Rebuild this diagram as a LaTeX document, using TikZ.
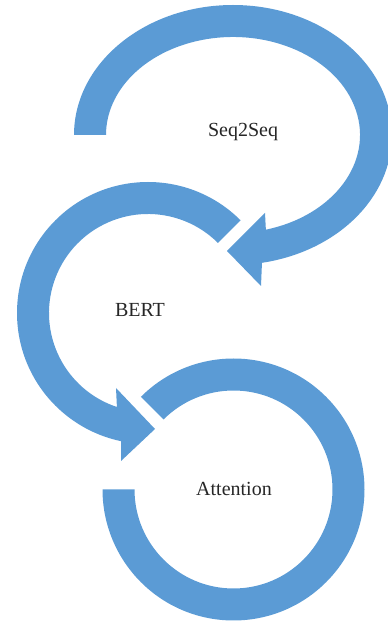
\documentclass[tikz,border=0pt]{standalone}
\usepackage{fontspec}
\setmainfont{Liberation Serif}
\usetikzlibrary{calc}
\definecolor{bandblue}{HTML}{5B9BD5}
\begin{document}
\begin{tikzpicture}[x=1pt, y=1pt,
        band/.style={fill=bandblue, draw=none},
        lbl/.style={text=black!85, font=\fontsize{20}{24}\selectfont}]
            \useasboundingbox (0,0) rectangle (388,622);
            % Centres of the rings
            \coordinate (c1) at (233,487);
            \coordinate (c2) at (148,309);
            \coordinate (c3) at (233.5,132.5);
            % Seq2Seq ring, arrow into BERT
            \fill[band] ($(c1)+(180:159 and 130)$) arc[start angle=180, end angle=-79.5, x radius=159, y radius=130]
                -- (261,336) -- (227,371) -- (265,409) -- ($(c1)+(-75:127 and 98)$)
                arc[start angle=-75, end angle=180, x radius=127, y radius=98] -- cycle;
            % BERT ring, arrow into Attention
            \fill[band] ($(c2)+(45:131)$) arc[start angle=45, end angle=258.2, radius=131]
                -- (121,161) -- (155,193) -- (116,234) -- ($(c2)+(251.7:99)$)
                arc[start angle=251.7, end angle=45, radius=99] -- cycle;
            % Attention ring
            \fill[band] ($(c3)+(135:131)$) arc[start angle=135, end angle=-180, radius=131]
                -- ($(c3)+(180:99)$) arc[start angle=-180, end angle=135, radius=99] -- cycle;
            % Labels
            \node[lbl] (seq) at (243,490) {Seq2Seq};
            \node[lbl] (bert) at (140,312) {BERT};
            \node[lbl] (att) at (234,133) {Attention};
        \end{tikzpicture}
\end{document}
